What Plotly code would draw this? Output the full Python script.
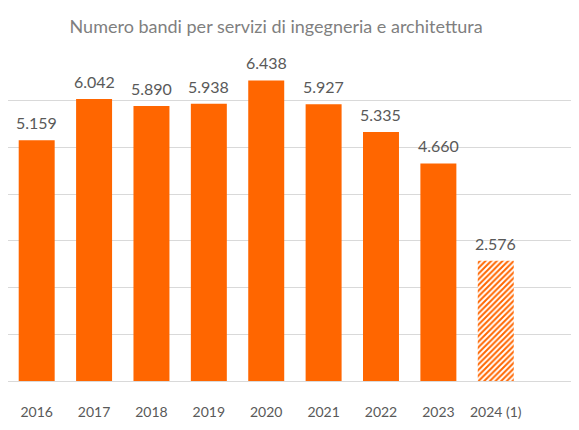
import plotly.graph_objects as go

categories = ["2016", "2017", "2018", "2019", "2020", "2021", "2022", "2023", "2024 (1)"]
values = [5159, 6042, 5890, 5938, 6438, 5927, 5335, 4660, 2576]
title_text = "Numero bandi per servizi di ingegneria e architettura"

orange = "#FF6600"
font_family = "Lato, Liberation Sans, sans-serif"

fig = go.Figure()
# solid bars (final values)
fig.add_trace(go.Bar(
    x=categories[:-1], y=values[:-1],
    marker=dict(color=orange, line=dict(width=0)),
))
# hatched bar (partial year)
fig.add_trace(go.Bar(
    x=categories[-1:], y=values[-1:],
    marker=dict(color="white", line=dict(width=0),
                pattern=dict(shape="/", fgcolor=orange, bgcolor="white", fgopacity=1,
                             size=4, solidity=0.5, fillmode="overlay")),
))

for i, v in enumerate(values):
    fig.add_annotation(x=i, y=v, text=f"{v:,}".replace(",", "."), showarrow=False,
                       xref="x", yref="y", yanchor="bottom", yshift=6,
                       font=dict(family=font_family, size=16, color="#595959"))

fig.update_layout(
    width=579, height=430,
    margin=dict(l=0, r=0, t=46, b=57),
    paper_bgcolor="white", plot_bgcolor="white",
    barmode="overlay",
    bargap=0.373,
    showlegend=False,
    title=dict(text=title_text, x=0.463, xanchor="center", y=1 - 19 / 430, yanchor="middle",
               font=dict(family=font_family, size=18, color="#7f7f7f")),
    font=dict(family=font_family, color="#595959"),
)
fig.update_xaxes(type="category", categoryorder="array", categoryarray=categories,
                 range=[-0.5, 9.59], showgrid=False, showline=False, zeroline=False,
                 ticks="", ticklabelstandoff=21, automargin=False,
                 tickfont=dict(size=14, color="#595959"))
fig.update_yaxes(range=[0, 7004], dtick=1000, showgrid=True, gridcolor="#d9d9d9", gridwidth=1,
                 zeroline=True, zerolinecolor="#d9d9d9", zerolinewidth=1,
                 showticklabels=False, ticks="", automargin=False)

fig.write_html("out.html")
